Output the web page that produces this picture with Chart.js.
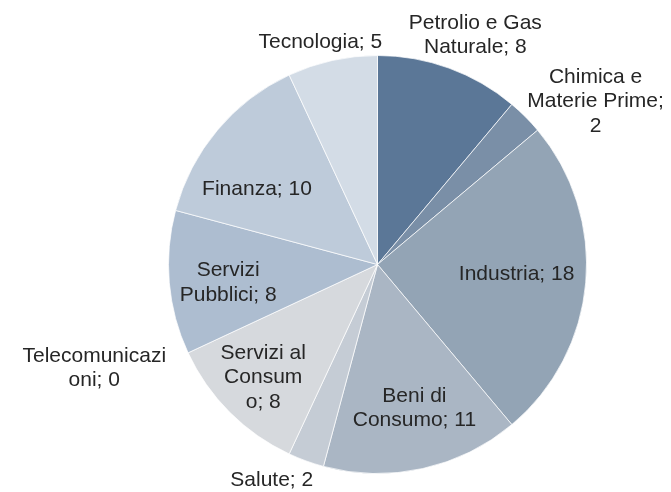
<!DOCTYPE html>
<html>
<head>
<meta charset="utf-8">
<script src="https://cdn.jsdelivr.net/npm/chart.js@4/dist/chart.umd.min.js"></script>
<style>
html,body{margin:0;padding:0;background:#fff;}
#wrap{width:671px;height:492px;position:relative;}
</style>
</head>
<body>
<div id="wrap"><canvas id="c" width="671" height="492"></canvas></div>
<script>
const categories = ["Petrolio e Gas Naturale","Chimica e Materie Prime","Industria","Beni di Consumo","Salute","Servizi al Consumo","Telecomunicazioni","Servizi Pubblici","Finanza","Tecnologia"];
const values = [8, 2, 18, 11, 2, 8, 0, 8, 10, 5];
const labelLines = [
  ["Petrolio e Gas","Naturale; 8"],
  ["Chimica e","Materie Prime;","2"],
  ["Industria; 18"],
  ["Beni di","Consumo; 11"],
  ["Salute; 2"],
  ["Servizi al","Consum","o; 8"],
  ["Telecomunicazi","oni; 0"],
  ["Servizi","Pubblici; 8"],
  ["Finanza; 10"],
  ["Tecnologia; 5"]
];
const colors = ["#5B7797","#7A8FA7","#93A4B5","#AAB6C4","#C5CCD5","#D6D9DD","#C8D0DA","#ADBDD0","#BECBDA","#D3DCE6"];

// label placement relative to each slice: radius factor and angle nudge (degrees)
const labelRadius = [1.193, 1.303, 0.667, 0.71, 1.15, 0.768, 1.443, 0.72, 0.68, 1.10];
const labelNudge  = [3.1, 8.2, -1.1, -1.9, 6.1, 0.4, 4.9, -2, -8, -1.9];

const labelPlugin = {
  id: 'sliceLabels',
  afterDatasetsDraw(chart) {
    const ctx = chart.ctx;
    const meta = chart.getDatasetMeta(0);
    ctx.save();
    ctx.font = '21px "Liberation Sans", Arial, sans-serif';
    ctx.fillStyle = '#262626';
    ctx.textAlign = 'center';
    ctx.textBaseline = 'middle';
    const lh = 24.5;
    meta.data.forEach((arc, i) => {
      const p = arc.getProps(['x','y','startAngle','endAngle','outerRadius'], true);
      const a = (p.startAngle + p.endAngle) / 2 + labelNudge[i] * Math.PI / 180;
      const r = p.outerRadius * labelRadius[i];
      const cx = p.x + Math.cos(a) * r;
      const cy = p.y + Math.sin(a) * r;
      const lines = labelLines[i];
      const top = cy - (lines.length - 1) * lh / 2;
      lines.forEach((t, k) => ctx.fillText(t, cx, top + k * lh));
    });
    ctx.restore();
  }
};

new Chart(document.getElementById('c'), {
  type: 'pie',
  data: {
    labels: categories,
    datasets: [{
      data: values,
      backgroundColor: colors,
      borderColor: 'rgba(255,255,255,0.7)',
      borderWidth: 1
    }]
  },
  options: {
    responsive: false,
    animation: false,
    layout: { padding: { left: 168, right: 84, top: 55, bottom: 18 } },
    plugins: { legend: { display: false }, tooltip: { enabled: false } }
  },
  plugins: [labelPlugin]
});
</script>
</body>
</html>
